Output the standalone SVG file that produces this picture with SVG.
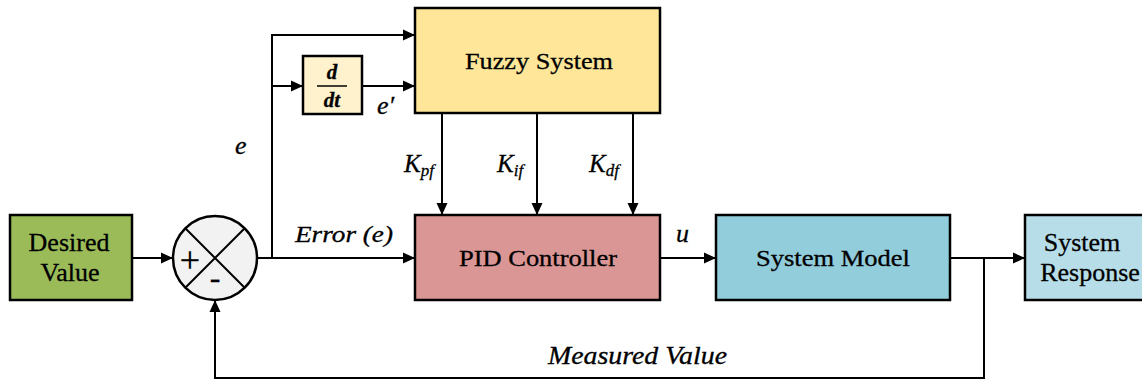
<svg xmlns="http://www.w3.org/2000/svg" width="1142" height="383" viewBox="0 0 1142 383" font-family="Liberation Serif, serif">
<style>
.box{stroke:#000;stroke-width:2.5}
.ln{stroke:#000;stroke-width:2;fill:none}
.t{font-size:24px;fill:#000;text-anchor:middle;stroke:#000;stroke-width:0.3}
.i{font-style:italic;font-size:24px;fill:#000;stroke:#000;stroke-width:0.3}
</style>
<defs>
<marker id="ar" markerWidth="12" markerHeight="12" refX="11" refY="6" orient="auto" markerUnits="userSpaceOnUse">
<path d="M0,0.5 L12,6 L0,11.5 Z" fill="#000"/>
</marker>
</defs>
<rect width="1142" height="383" fill="#fff"/>
<g id="connectors">
<path class="ln" d="M132,258 H172" marker-end="url(#ar)"/>
<path class="ln" d="M257,258 H414" marker-end="url(#ar)"/>
<path class="ln" d="M272,258 V35 H414" marker-end="url(#ar)"/>
<path class="ln" d="M272,86 H302" marker-end="url(#ar)"/>
<path class="ln" d="M363,86 H414" marker-end="url(#ar)"/>
<path class="ln" d="M442,113 V214" marker-end="url(#ar)"/>
<path class="ln" d="M537,113 V214" marker-end="url(#ar)"/>
<path class="ln" d="M633,113 V214" marker-end="url(#ar)"/>
<path class="ln" d="M660,258 H715" marker-end="url(#ar)"/>
<path class="ln" d="M950,258 H1024" marker-end="url(#ar)"/>
<path class="ln" d="M984,258 V378 H215 V301" marker-end="url(#ar)"/>
</g>
<g id="desired">
<rect class="box" x="10" y="215" width="122" height="85" fill="#9BBB59"/>
<text class="t" x="69" y="251" style="font-size:26px">Desired</text>
<text class="t" x="70" y="281" style="font-size:26px">Value</text>
</g>
<g id="sum">
<circle cx="215" cy="258" r="42" fill="#F2F2F2" stroke="#000" stroke-width="2.5"/>
<path class="ln" d="M185.3,228.3 L244.7,287.7 M244.7,228.3 L185.3,287.7"/>
<text class="t" x="190" y="272" style="font-size:36px">+</text>
<text class="t" x="215" y="288" style="font-size:32px">-</text>
</g>
<g id="ddt">
<rect class="box" x="303" y="56" width="59" height="58" fill="#FFF2CC"/>
<text class="t" x="332" y="79" style="font-weight:bold;font-style:italic;font-size:21px">d</text>
<line x1="317" y1="86" x2="347" y2="86" stroke="#000" stroke-width="1.5"/>
<text class="t" x="332" y="107" style="font-weight:bold;font-style:italic;font-size:21px">dt</text>
</g>
<g id="fuzzy">
<rect class="box" x="415" y="8" width="245" height="105" fill="#FFE699"/>
<text class="t" x="539" y="69" textLength="148" lengthAdjust="spacingAndGlyphs">Fuzzy System</text>
</g>
<g id="pid">
<rect class="box" x="415" y="215" width="245" height="85" fill="#DA9694"/>
<text class="t" x="538" y="266" textLength="158" lengthAdjust="spacingAndGlyphs">PID Controller</text>
</g>
<g id="model">
<rect class="box" x="716" y="215" width="234" height="85" fill="#92CDDC"/>
<text class="t" x="833" y="266" textLength="154" lengthAdjust="spacingAndGlyphs">System Model</text>
</g>
<g id="response">
<rect class="box" x="1025" y="215" width="125" height="85" fill="#B7DEE8"/>
<text class="t" x="1082" y="251" style="font-size:26px">System</text>
<text class="t" x="1090" y="281" style="font-size:26px">Response</text>
</g>
<g id="labels">
<text class="i" x="235" y="154" style="font-size:26px">e</text>
<text class="i" x="377" y="114" style="font-size:26px">e′</text>
<text class="i" x="404" y="172" style="font-size:25px">K<tspan font-size="17" dy="4">pf</tspan></text>
<text class="i" x="497" y="172" style="font-size:25px">K<tspan font-size="17" dy="4">if</tspan></text>
<text class="i" x="589" y="172" style="font-size:25px">K<tspan font-size="17" dy="4">df</tspan></text>
<text class="i" x="295" y="242" textLength="98" lengthAdjust="spacingAndGlyphs">Error (e)</text>
<text class="i" x="676" y="242" style="font-size:26px">u</text>
<text class="i" x="548" y="364" style="font-size:25px" textLength="179" lengthAdjust="spacingAndGlyphs">Measured Value</text>
</g>
</svg>
